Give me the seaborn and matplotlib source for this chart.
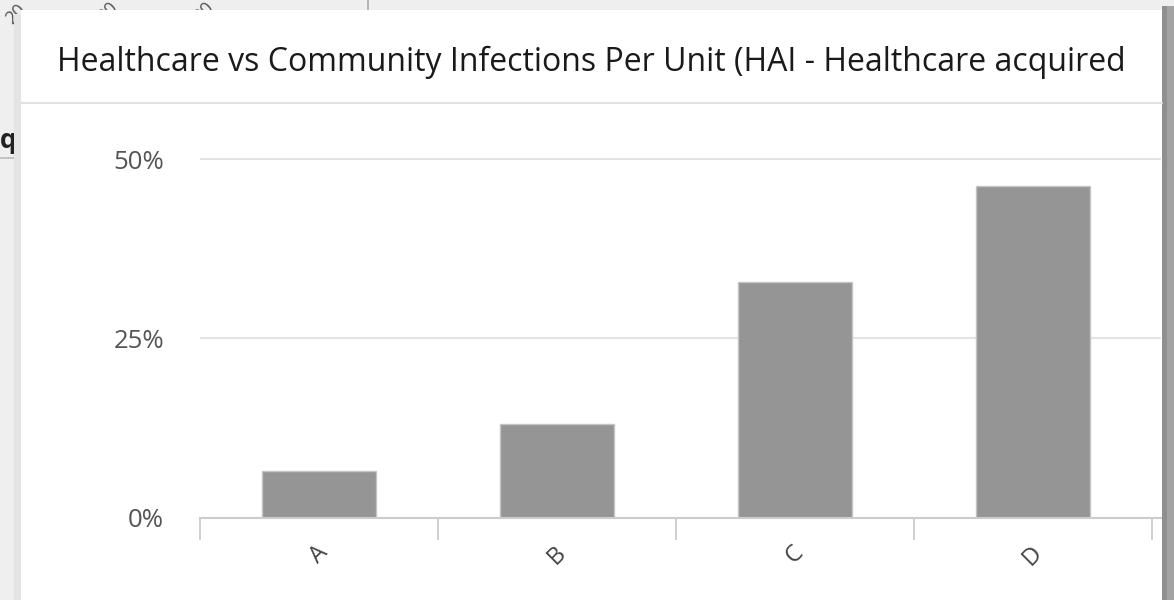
import matplotlib
matplotlib.use("Agg")
import matplotlib.pyplot as plt
import matplotlib.patches as mpatches
import matplotlib.lines as mlines
from matplotlib.ticker import FixedLocator, FuncFormatter
import seaborn as sns
import pandas as pd

# ---- data ----
units = ["A", "B", "C", "D"]
hai_share = [6.5, 13.0, 32.9, 46.3]
y_ticks = [0, 25, 50]
title_text = "Healthcare vs Community Infections Per Unit (HAI - Healthcare acquired"

sns.set_theme(style="white")
plt.rcParams['font.family'] = ['Open Sans', 'DejaVu Sans']

W, H = 1174, 600
fig = plt.figure(figsize=(W / 100, H / 100), dpi=100)
fig.patch.set_facecolor("#efefef")

def fx(px):
    return px / W

def fy(py):
    return 1 - py / H

# background fragments (page behind the card)
for x0, y0 in [(16, 14), (108, 12), (204, 12)]:
    fig.text(fx(x0), fy(y0), "20", rotation=45, fontsize=13, color="#555555",
             ha="center", va="center", zorder=-3)
fig.text(fx(0), fy(140), "qu", fontsize=19, fontweight="bold", color="#222222",
         ha="left", va="center", zorder=-3)
fig.add_artist(mlines.Line2D([fx(0), fx(21)], [fy(158), fy(158)], color="#bbbbbb",
                             lw=1.2, zorder=-3))
fig.add_artist(mlines.Line2D([fx(368), fx(368)], [fy(0), fy(10)], color="#aaaaaa",
                             lw=1.2, zorder=-3))

# shadows
fig.add_artist(mpatches.Rectangle((fx(1162), 0), fx(12), fy(6), color="#8f8f8f",
                                  transform=fig.transFigure, zorder=-2, lw=0))
fig.add_artist(mpatches.Rectangle((fx(1167), 0), fx(7), fy(6), color="#a3a3a3",
                                  transform=fig.transFigure, zorder=-2, lw=0))
fig.add_artist(mpatches.Rectangle((fx(14), 0), fx(7), fy(14), color="#e4e4e4",
                                  transform=fig.transFigure, zorder=-2, lw=0))
# card
fig.add_artist(mpatches.Rectangle((fx(21), 0), fx(1162 - 21), fy(10), color="white",
                                  transform=fig.transFigure, zorder=-1, lw=0))
# title separator
fig.add_artist(mlines.Line2D([fx(21), fx(1162)], [fy(103), fy(103)], color="#e2e2e2",
                             lw=1.5, zorder=-0.5))
# title
fig.text(fx(57), fy(71), title_text, fontsize=23, color="#1a1a1a",
         ha="left", va="baseline", zorder=2)

# ---- axes ----
px_per_unit_y = (517.5 - 159.3) / 50.0
ymax = 52
top_px = 517.5 - ymax * px_per_unit_y
ax = fig.add_axes([fx(200), 1 - 517.5 / H, fx(1161 - 200), (517.5 - top_px) / H])
ax.set_facecolor("none")

df = pd.DataFrame({"unit": units, "share": hai_share})
sns.barplot(data=df, x="unit", y="share", color="#959595", saturation=1,
            width=0.48, edgecolor="#c4c4c4", linewidth=1.0, ax=ax)

ax.set_xlim(-0.5, (1161 - 319) / 238.0)
ax.set_ylim(0, ymax)

ax.yaxis.set_major_locator(FixedLocator(y_ticks))
ax.yaxis.set_major_formatter(FuncFormatter(lambda v, p: f"{int(v)}%"))
for v in y_ticks[1:]:
    ax.axhline(v, color="#e3e3e3", lw=1.5, zorder=0)
ax.tick_params(axis="y", length=0, pad=26, labelsize=18.5, labelcolor="#555555")

ax.set_xticks(range(len(units)))
ax.set_xticklabels(units, rotation=45, ha="center", va="top")
ax.tick_params(axis="x", which="major", length=0, pad=17, labelsize=17,
               labelcolor="#444444")
ax.set_xticks([i - 0.5 for i in range(len(units) + 1)], minor=True)
ax.tick_params(axis="x", which="minor", length=16, width=1.3, color="#cccccc",
               direction="out", bottom=True)

for s in ["top", "right", "left"]:
    ax.spines[s].set_visible(False)
ax.spines["bottom"].set_color("#cccccc")
ax.spines["bottom"].set_linewidth(1.5)
ax.set_xlabel("")
ax.set_ylabel("")

fig.savefig("out.png", dpi=100, facecolor=fig.get_facecolor())
